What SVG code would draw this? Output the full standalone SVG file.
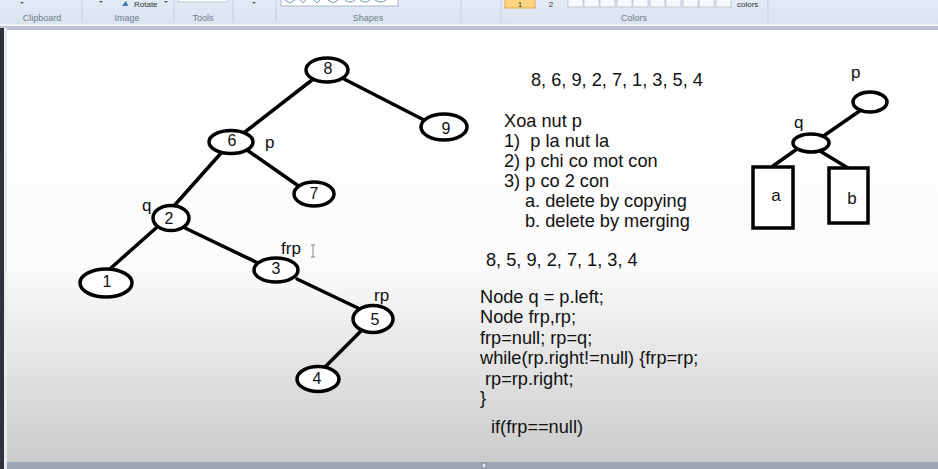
<svg xmlns="http://www.w3.org/2000/svg" width="938" height="469" viewBox="0 0 938 469">
<defs>
<linearGradient id="canvasg" x1="0" y1="0" x2="0" y2="1" gradientUnits="objectBoundingBox">
<stop offset="0" stop-color="#ffffff"/>
<stop offset="0.55" stop-color="#fbfbfb"/>
<stop offset="1" stop-color="#cbcbcb"/>
</linearGradient>
<linearGradient id="ribbong" x1="0" y1="0" x2="0" y2="1">
<stop offset="0" stop-color="#e3ebf5"/>
<stop offset="1" stop-color="#d9e3ee"/>
</linearGradient>
<style>
.rl{font-family:"Segoe UI","Liberation Sans",Arial,sans-serif;font-size:9px;fill:#6d7b8e}
.rs{stroke:#c3cfdc;stroke-width:1}
.node ellipse{fill:#ffffff;stroke:#000;stroke-width:3.5}
.node text{font-family:"Liberation Sans",Arial,sans-serif;font-size:16px;fill:#111;text-anchor:middle}
.edges line{stroke:#000;stroke-width:3.5;stroke-linecap:round}
.lbl{font-family:"Liberation Sans",Arial,sans-serif;font-size:17px;fill:#111}
.txt{font-family:"Liberation Sans",Arial,sans-serif;font-size:18.2px;fill:#111}
.box rect{fill:#fff;stroke:#000;stroke-width:3.5}
</style>
</defs>
<!-- ribbon -->
<rect x="0" y="0" width="938" height="27" fill="url(#ribbong)"/>
<rect x="0" y="24" width="938" height="2" fill="#eef3f8"/>
<rect x="0" y="26" width="938" height="4" fill="#b9c2cc"/>
<g class="rs">
<line x1="82" y1="0" x2="82" y2="22"/><line x1="174" y1="0" x2="174" y2="22"/>
<line x1="233" y1="0" x2="233" y2="22"/><line x1="276" y1="0" x2="276" y2="22"/>
<line x1="461" y1="0" x2="461" y2="22"/><line x1="501" y1="0" x2="501" y2="22"/>
<line x1="768" y1="0" x2="768" y2="22"/>
</g>
<text class="rl" x="42" y="21" text-anchor="middle">Clipboard</text>
<text class="rl" x="127" y="21" text-anchor="middle">Image</text>
<text class="rl" x="203" y="21" text-anchor="middle">Tools</text>
<text class="rl" x="368" y="21" text-anchor="middle">Shapes</text>
<text class="rl" x="634" y="21" text-anchor="middle">Colors</text>
<g fill="#555">
<path d="M20 2 L24 2 L22 4 Z"/><path d="M99 1 L103 1 L101 3 Z"/><path d="M252 2 L256 2 L254 4 Z"/><path d="M164 1 L168 1 L166 3 Z"/>
</g>
<path d="M122 6 L126 1 L128 6 Z" fill="#3b6fb6"/>
<text x="134" y="7" style="font-family:'Liberation Sans',Arial,sans-serif;font-size:8px;fill:#333">Rotate</text>
<rect x="178" y="-2" width="50" height="4" fill="#fff" stroke="#b8c4d2"/>
<rect x="281" y="-2" width="117" height="8" fill="#fff" stroke="#a9b6c6"/>
<g stroke="#4a77b0" fill="none" stroke-width="0.8">
<path d="M285 0 L290 3 L295 0"/><path d="M300 0 L303 3 L306 0"/><path d="M314 0 L317 3 L320 0"/><path d="M328 0 L333 3 L338 0"/><path d="M345 0 Q350 4 355 0"/><path d="M360 0 Q365 4 370 0"/><path d="M375 0 Q381 4 386 0"/>
</g>
<rect x="505" y="-2" width="30" height="10" fill="#fcd581" stroke="#e5a93b"/>
<text x="520" y="7" text-anchor="middle" style="font-family:'Liberation Sans',Arial,sans-serif;font-size:8px;fill:#333">1</text>
<text x="551" y="7" text-anchor="middle" style="font-family:'Liberation Sans',Arial,sans-serif;font-size:8px;fill:#333">2</text>
<g fill="#f6f8fb" stroke="#b5bfcb" stroke-width="0.8">
<rect x="568" y="-2" width="15" height="9"/><rect x="584" y="-2" width="15" height="9"/><rect x="600" y="-2" width="15" height="9"/><rect x="617" y="-2" width="15" height="9"/><rect x="633" y="-2" width="15" height="9"/><rect x="650" y="-2" width="15" height="9"/><rect x="666" y="-2" width="15" height="9"/><rect x="683" y="-2" width="15" height="9"/><rect x="699" y="-2" width="15" height="9"/><rect x="716" y="-2" width="15" height="9"/>
</g>
<text x="737" y="7" style="font-family:'Segoe UI','Liberation Sans',Arial,sans-serif;font-size:8px;fill:#333">colors</text>
<!-- canvas -->
<rect x="0" y="30" width="938" height="432" fill="url(#canvasg)"/>
<rect x="0" y="28" width="4" height="441" fill="#2e323b"/>
<rect x="4" y="28" width="3" height="441" fill="#e8ecf0"/>
<rect x="7" y="462" width="931" height="7" fill="#9ea8b4"/>
<rect x="482" y="463" width="4" height="5" fill="#e4e8ec" stroke="#6a7480" stroke-width="0.8"/>
<!-- connectors -->
<g class="edges" id="connectors">
<line x1="312" y1="80" x2="245" y2="132"/>
<line x1="344" y1="79" x2="424" y2="120"/>
<line x1="222" y1="152" x2="173" y2="207"/>
<line x1="247" y1="150" x2="300" y2="187"/>
<line x1="156" y1="228" x2="111" y2="268"/>
<line x1="185" y1="228" x2="258" y2="263"/>
<line x1="297" y1="279" x2="362" y2="310"/>
<line x1="361" y1="331" x2="324" y2="368"/>
<line x1="861" y1="110" x2="822" y2="137"/>
<line x1="797" y1="149" x2="773" y2="166"/>
<line x1="820" y1="151" x2="848" y2="168"/>
</g>
<!-- tree nodes -->
<g class="node" id="n8"><ellipse cx="327" cy="70" rx="21" ry="12"/><text x="328" y="74">8</text></g>
<g class="node" id="n9"><ellipse cx="444" cy="127" rx="23" ry="13"/><text x="446" y="134">9</text></g>
<g class="node" id="n6"><ellipse cx="231" cy="142" rx="22" ry="11.5"/><text x="232" y="146">6</text></g>
<g class="node" id="n7"><ellipse cx="314" cy="194" rx="20" ry="12"/><text x="314" y="199">7</text></g>
<g class="node" id="n2"><ellipse cx="171" cy="218" rx="18" ry="12.5"/><text x="169" y="224">2</text></g>
<g class="node" id="n1"><ellipse cx="106" cy="283" rx="26" ry="14"/><text x="107" y="287">1</text></g>
<g class="node" id="n3"><ellipse cx="276" cy="270" rx="22" ry="12"/><text x="276" y="274">3</text></g>
<g class="node" id="n5"><ellipse cx="373" cy="319" rx="20" ry="13.5"/><text x="375" y="325">5</text></g>
<g class="node" id="n4"><ellipse cx="318" cy="379" rx="21" ry="12.5"/><text x="317" y="384">4</text></g>
<!-- tree labels -->
<text class="lbl" x="265" y="148">p</text>
<text class="lbl" x="142" y="211">q</text>
<text class="lbl" x="281" y="254">frp</text>
<text class="lbl" x="374" y="301">rp</text>
<g stroke="#8a8a8a" stroke-width="1" fill="none"><path d="M313 245 L313 257 M311 245 L315 245 M311 257 L315 257"/></g>
<!-- right small diagram -->
<text class="lbl" x="851" y="78">p</text>
<g class="node" id="np"><ellipse cx="870" cy="102" rx="17" ry="10"/></g>
<text class="lbl" x="794" y="128">q</text>
<g class="node" id="nq"><ellipse cx="811" cy="143" rx="18" ry="9"/></g>
<g class="box" id="na"><rect x="753" y="167" width="40" height="61"/><text class="lbl" x="776" y="201" text-anchor="middle">a</text></g>
<g class="box" id="nb"><rect x="829" y="168" width="39" height="55"/><text class="lbl" x="852" y="204" text-anchor="middle">b</text></g>
<!-- text -->
<g class="txt">
<text x="531" y="86">8, 6, 9, 2, 7, 1, 3, 5, 4</text>
<text x="504" y="127">Xoa nut p</text>
<text x="504" y="147" xml:space="preserve">1)  p la nut la</text>
<text x="504" y="167">2) p chi co mot con</text>
<text x="504" y="187">3) p co 2 con</text>
<text x="525" y="207">a. delete by copying</text>
<text x="525" y="227">b. delete by merging</text>
<text x="486" y="266">8, 5, 9, 2, 7, 1, 3, 4</text>
<text x="480" y="303">Node q = p.left;</text>
<text x="480" y="323">Node frp,rp;</text>
<text x="480" y="344">frp=null; rp=q;</text>
<text x="480" y="364">while(rp.right!=null) {frp=rp;</text>
<text x="485" y="385">rp=rp.right;</text>
<text x="480" y="404">}</text>
<text x="491" y="433">if(frp==null)</text>
</g>
</svg>
